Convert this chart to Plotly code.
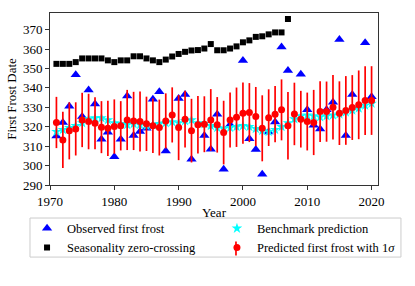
import plotly.graph_objects as go

years = list(range(1971, 2021))

observed = [315.3, 322.2, 330.6, 346.8, 325.3, 339.0, 331.7, 313.6, 317.2, 304.6,
            313.6, 335.9, 315.5, 317.5, 319.2, 334.2, 338.0, 307.5, None, 334.6,
            336.6, 303.3, None, 315.5, 308.4, 326.5, 298.1, 321.0, None, 354.1,
            313.8, 308.3, 295.6, 317.3, 322.5, 361.1, 349.0, None, 347.0, 328.7,
            320.8, 318.8, 328.7, 332.6, 365.0, 315.5, 336.6, None, 363.3, 335.4]

season_years = list(range(1971, 2008))
seasonality = [352.4, 352.4, 352.4, 353.3, 355.2, 355.2, 355.2, 355.2, 354.2, 353.3,
               354.2, 354.2, 356.3, 356.3, 355.2, 354.2, 353.3, 354.6, 356.2, 357.5,
               358.6, 359.3, 359.5, 360.3, 362.6, 359.4, 359.4, 360.3, 361.4, 363.5,
               364.5, 366.3, 366.6, 367.6, 368.6, 368.6, 375.5]

benchmark = [317.5, 318.5, 319.5, 320.5, 322.0, 324.0, 324.5, 324.5, 323.5, 322.0,
             321.5, 321.0, 321.5, 321.0, 320.5, 321.0, 321.5, 322.0, 322.5, 322.0,
             323.0, 323.5, 322.0, 321.5, 320.5, 319.5, 319.0, 319.5, 320.0, 320.5,
             320.0, 319.0, 318.0, 317.5, 318.5, 320.0, 322.0, 324.0, 325.5, 326.0,
             325.5, 325.0, 325.5, 326.0, 326.5, 327.5, 328.5, 329.5, 331.0, 332.0]

predicted = [322.2, 313.2, 317.9, 318.9, 323.5, 322.7, 321.8, 319.8, 319.2, 320.1,
             320.5, 323.5, 323.0, 322.7, 321.5, 320.5, 319.6, 323.0, 326.1, 319.6,
             323.9, 318.0, 321.0, 321.3, 323.5, 321.0, 317.0, 323.5, 324.9, 327.0,
             327.3, 325.3, 319.2, 324.7, 326.5, 328.7, 320.5, 326.6, 323.9, 322.7,
             322.2, 327.8, 327.8, 330.1, 327.0, 328.4, 329.9, 331.3, 333.5, 333.5]

sigma = [13.2, 14.5, 14.7, 13.7, 14.0, 14.3, 13.4, 13.4, 14.2, 14.0,
         12.7, 15.5, 15.0, 15.5, 14.0, 14.0, 14.4, 14.2, 14.2, 16.8,
         14.6, 16.4, 14.8, 14.4, 15.9, 14.3, 16.4, 14.2, 15.3, 15.8,
         15.2, 15.2, 17.0, 14.6, 14.5, 15.7, 17.4, 16.1, 14.6, 14.9,
         16.8, 15.7, 15.5, 16.6, 16.4, 17.7, 16.7, 17.7, 17.7, 17.7]

FONT = "'Liberation Serif', 'Times New Roman', Times, serif"

fig = go.Figure()
fig.add_trace(go.Scatter(
    x=years, y=observed, mode="markers", name="Observed first frost",
    marker=dict(symbol="triangle-up", size=9, color="#0000ff", line=dict(width=0)),
    legend="legend"))
fig.add_trace(go.Scatter(
    x=season_years, y=seasonality, mode="markers", name="Seasonality zero-crossing",
    marker=dict(symbol="square", size=6, color="black", line=dict(width=0)),
    legend="legend"))
fig.add_trace(go.Scatter(
    x=years, y=benchmark, mode="markers", name="Benchmark prediction",
    marker=dict(symbol="star", size=8, color="#00ffff", line=dict(width=0)),
    legend="legend2"))
fig.add_trace(go.Scatter(
    x=years, y=predicted, mode="markers", name="Predicted first frost with 1<i>σ</i>",
    marker=dict(symbol="circle", size=7, color="#ff0000", line=dict(width=0)),
    error_y=dict(type="data", array=sigma, visible=True, color="#ff0000",
                 thickness=1.7, width=0),
    legend="legend2"))

axis_common = dict(
    showline=True, linecolor="#333", linewidth=1, mirror=True,
    ticks="outside", ticklen=4, tickwidth=1, tickcolor="#333",
    showgrid=False, zeroline=False,
    tickfont=dict(family=FONT, size=13, color="black"),
)

fig.update_xaxes(range=[1970, 2021], tickvals=[1970, 1980, 1990, 2000, 2010, 2020],
                 title=dict(text="Year", font=dict(family=FONT, size=13, color="black"), standoff=0),
                 **axis_common)
fig.update_yaxes(range=[290, 378.6], tickvals=list(range(290, 371, 10)),
                 title=dict(text="First Frost Date", font=dict(family=FONT, size=13, color="black"), standoff=3),
                 **axis_common)

leg_common = dict(
    orientation="v", yanchor="top", xanchor="left",
    bgcolor="rgba(0,0,0,0)", borderwidth=0,
    font=dict(family=FONT, size=12.5, color="black"),
    tracegroupgap=0,
)

fig.update_layout(
    width=415, height=286,
    margin=dict(l=50, r=37, t=13, b=101, autoexpand=False),
    paper_bgcolor="white", plot_bgcolor="white",
    font=dict(family=FONT, size=13, color="black"),
    legend=dict(x=-0.070, y=-0.167, **leg_common),
    legend2=dict(x=0.509, y=-0.167, **leg_common),
    shapes=[
        dict(type="rect", xref="paper", yref="paper",
             x0=-0.061, x1=1.070, y0=-0.192, y1=-0.419,
             line=dict(color="#cccccc", width=1), fillcolor="rgba(0,0,0,0)",
             layer="below"),
        # error-bar glyph behind the legend dot of the prediction entry
        dict(type="line", xref="paper", yref="paper",
             x0=0.567, x1=0.567, y0=-0.329, y1=-0.410,
             line=dict(color="#ff0000", width=1.7), layer="above"),
    ],
)

fig.write_html("out.html", config={"displayModeBar": False},
               post_script="document.body.style.margin='0';")
